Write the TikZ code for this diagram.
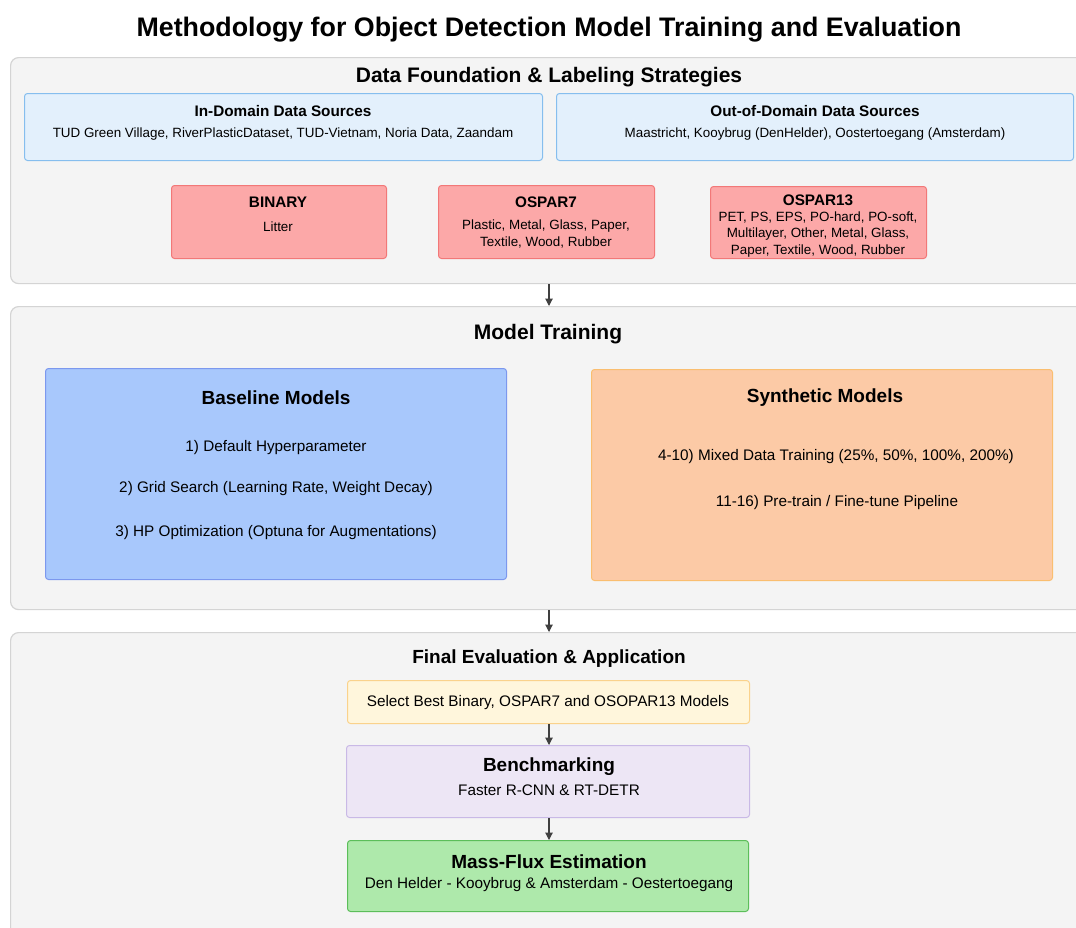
\documentclass[tikz,border=0pt]{standalone}
\usepackage{fontspec}
\setmainfont{Liberation Sans}
\usetikzlibrary{arrows.meta}
\definecolor{cfill}{HTML}{F4F4F4}
\definecolor{cborder}{HTML}{D4D4D4}
\definecolor{dsfill}{HTML}{E3F0FC}
\definecolor{dsborder}{HTML}{86BEEE}
\definecolor{rfill}{HTML}{FCA8A8}
\definecolor{rborder}{HTML}{F27878}
\definecolor{bfill}{HTML}{A8C8FC}
\definecolor{bborder}{HTML}{7C98EE}
\definecolor{sfill}{HTML}{FCCAA6}
\definecolor{sborder}{HTML}{FABE70}
\definecolor{yfill}{HTML}{FFF6DC}
\definecolor{yborder}{HTML}{FAD28C}
\definecolor{pfill}{HTML}{EDE6F5}
\definecolor{pborder}{HTML}{C9B9E6}
\definecolor{gfill}{HTML}{AEE9AB}
\definecolor{gborder}{HTML}{5CBE5A}
\definecolor{arrowc}{HTML}{404040}
\newcommand{\fs}[1]{\fontsize{#1}{#1}\selectfont}
\begin{document}
\begin{tikzpicture}[x=1pt,y=-1pt,
  container/.style={draw=cborder, fill=cfill, rounded corners=8pt, line width=1.2pt, anchor=north west, inner sep=0pt},
  boxx/.style={rounded corners=3pt, line width=1pt, anchor=north west, inner sep=0pt},
  lbl/.style={inner sep=0pt, align=center, text=black, yshift=-1.5pt},
  arr/.style={draw=arrowc, line width=1.1pt, -{Triangle[length=7.5pt,width=7.5pt]}}
]
\useasboundingbox (0,0) rectangle (1076,927);
\clip (0,0) rectangle (1076,927);
\fill[white] (0,0) rectangle (1076,927);
\coordinate (mid) at (549,0);

% title
\node[lbl] (title) at (549,28) {\fs{26.8}\bfseries Methodology for Object Detection Model Training and Evaluation};

% container 1
\node[container, minimum width=1090pt, minimum height=226pt] (c1) at (10,57) {};
\node[lbl] (c1t) at (549,76) {\fs{21}\bfseries Data Foundation \& Labeling Strategies};

\node[boxx, draw=dsborder, fill=dsfill, minimum width=518pt, minimum height=67pt] (ind) at (24,93) {};
\node[lbl] (indt) at (283,110) {\fs{15.3}\bfseries In-Domain Data Sources};
\node[lbl] (indx) at (283,133) {\fs{13.4}TUD Green Village, RiverPlasticDataset, TUD-Vietnam, Noria Data, Zaandam};

\node[boxx, draw=dsborder, fill=dsfill, minimum width=517pt, minimum height=67pt] (outd) at (556,93) {};
\node[lbl] (outdt) at (815,110) {\fs{15.3}\bfseries Out-of-Domain Data Sources};
\node[lbl] (outdx) at (815,133) {\fs{13.4}Maastricht, Kooybrug (DenHelder), Oostertoegang (Amsterdam)};

\node[boxx, draw=rborder, fill=rfill, minimum width=215pt, minimum height=73pt] (bin) at (171,185) {};
\node[lbl] (bint) at (278,201) {\fs{15.3}\bfseries BINARY};
\node[lbl] (binx) at (278,225) {\fs{13.4}Litter};

\node[boxx, draw=rborder, fill=rfill, minimum width=216pt, minimum height=73pt] (o7) at (438,185) {};
\node[lbl] (o7t) at (546,201) {\fs{15.3}\bfseries OSPAR7};
\node[lbl] (o7x1) at (546,225) {\fs{13.4}Plastic, Metal, Glass, Paper,};
\node[lbl] (o7x2) at (546,241) {\fs{13.4}Textile, Wood, Rubber};

\node[boxx, draw=rborder, fill=rfill, minimum width=216pt, minimum height=72pt] (o13) at (710,186) {};
\node[lbl] (o13t) at (818,199) {\fs{15.3}\bfseries OSPAR13};
\node[lbl] (o13x1) at (818,216) {\fs{13.4}PET, PS, EPS, PO-hard, PO-soft,};
\node[lbl] (o13x2) at (818,233) {\fs{13.4}Multilayer, Other, Metal, Glass,};
\node[lbl] (o13x3) at (818,249.5) {\fs{13.4}Paper, Textile, Wood, Rubber};

% container 2
\node[container, minimum width=1090pt, minimum height=303pt] (c2) at (10,306) {};
\node[lbl] (c2t) at (548,333) {\fs{21}\bfseries Model Training};

\node[boxx, draw=bborder, fill=bfill, minimum width=461pt, minimum height=211pt] (base) at (45,368) {};
\node[lbl] (baset) at (276,396) {\fs{19}\bfseries Baseline Models};
\node[lbl] (base1) at (276,446) {\fs{15.3}1) Default Hyperparameter};
\node[lbl] (base2) at (276,487) {\fs{15.3}2) Grid Search (Learning Rate, Weight Decay)};
\node[lbl] (base3) at (276,531) {\fs{15.3}3) HP Optimization (Optuna for Augmentations)};

\node[boxx, draw=sborder, fill=sfill, minimum width=461pt, minimum height=211pt] (syn) at (591,369) {};
\node[lbl] (synt) at (825,396) {\fs{19}\bfseries Synthetic Models};
\node[lbl] (syn1) at (836,455) {\fs{15.3}4-10) Mixed Data Training (25\%, 50\%, 100\%, 200\%)};
\node[lbl] (syn2) at (837,501) {\fs{15.3}11-16) Pre-train / Fine-tune Pipeline};

% container 3
\node[container, minimum width=1090pt, minimum height=320pt] (c3) at (10,632) {};
\node[lbl] (c3t) at (549,657) {\fs{19}\bfseries Final Evaluation \& Application};

\node[boxx, draw=yborder, fill=yfill, minimum width=402pt, minimum height=43pt] (sel) at (347,680) {};
\node[lbl] (selx) at (548,701) {\fs{15.3}Select Best Binary, OSPAR7 and OSOPAR13 Models};

\node[boxx, draw=pborder, fill=pfill, minimum width=403pt, minimum height=72pt] (bench) at (346,745) {};
\node[lbl] (bencht) at (549,765) {\fs{19}\bfseries Benchmarking};
\node[lbl] (benchx) at (549,789) {\fs{15.3}Faster R-CNN \& RT-DETR};

\node[boxx, draw=gborder, fill=gfill, minimum width=401pt, minimum height=71pt] (mass) at (347,840) {};
\node[lbl] (masst) at (549,860) {\fs{19}\bfseries Mass-Flux Estimation};
\node[lbl] (massx) at (549,883) {\fs{15.3}Den Helder - Kooybrug \& Amsterdam - Oestertoegang};

% connectors
\draw[arr] (c1.south -| mid) -- (c2.north -| mid);
\draw[arr] (c2.south -| mid) -- (c3.north -| mid);
\draw[arr] (sel.south -| mid) -- (bench.north -| mid);
\draw[arr] (bench.south -| mid) -- (mass.north -| mid);
\end{tikzpicture}
\end{document}
